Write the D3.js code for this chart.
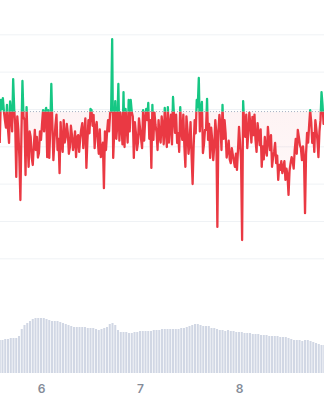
<!DOCTYPE html>
<html>
<head>
<meta charset="utf-8">
<script src="https://cdn.jsdelivr.net/npm/d3@7"></script>
<style>
  html, body { margin: 0; padding: 0; background: #fff; }
  .axis text { font-family: Inter, "Noto Sans", sans-serif; font-size: 12px; font-weight: 600; fill: #858c99; }
</style>
</head>
<body>
<div id="chart"></div>
<script>
// price samples every 15 minutes, hours counted from day 5 00:00
const priceStart = 14;
const priceStep = 0.25;
const prices = [
  100.9, 112.4, 110.0, 112.9, 109.5, 107.0, 105.0, 111.1, 104.5, 100.9, 112.0, 108.4, 104.0, 118.0, 110.0, 105.7,
  91.8, 108.0, 104.4, 97.0, 85.6, 103.0, 117.5, 108.0, 107.0, 92.3, 110.5, 101.0, 94.5, 104.0, 102.5, 97.0,
  95.0, 100.0, 104.4, 99.0, 102.5, 97.0, 98.2, 104.0, 101.7, 106.0, 109.7, 104.0, 109.2, 110.3, 97.1, 109.7,
  96.9, 105.0, 116.7, 106.0, 96.3, 101.5, 105.7, 108.5, 99.0, 102.0, 92.8, 106.5, 100.9, 98.5, 107.0, 101.0,
  102.5, 106.0, 103.6, 98.0, 99.8, 105.5, 103.0, 99.0, 100.9, 104.0, 97.1, 102.5, 103.0, 98.5, 102.2, 104.5,
  106.2, 99.5, 103.6, 107.5, 94.2, 101.5, 107.0, 103.5, 110.0, 109.7, 105.5, 108.4, 99.5, 105.2, 106.5, 101.7,
  98.0, 104.5, 97.1, 99.0, 101.0, 88.8, 104.0, 99.0, 103.6, 107.0, 104.0, 108.9, 109.5, 128.7, 96.9, 104.0,
  112.1, 102.0, 105.7, 116.7, 101.5, 109.0, 105.7, 100.5, 114.5, 99.8, 110.0, 105.2, 101.0, 112.4, 104.0, 112.4,
  109.2, 108.0, 96.9, 106.5, 103.6, 99.0, 100.9, 107.5, 104.9, 102.0, 99.5, 109.7, 101.5, 107.0, 110.0, 107.0,
  111.6, 102.0, 107.0, 94.2, 111.1, 101.7, 109.0, 105.7, 103.8, 99.0, 107.0, 102.5, 101.0, 108.0, 105.2, 100.5,
  110.3, 104.5, 99.8, 110.5, 101.0, 105.7, 108.5, 100.5, 113.2, 108.0, 103.6, 108.5, 100.9, 103.5, 98.5, 110.5,
  104.0, 101.7, 108.5, 100.0, 94.5, 108.0, 104.4, 98.0, 100.9, 106.5, 97.5, 89.9, 100.0, 107.0, 103.5, 112.4,
  110.5, 118.3, 104.0, 109.7, 111.9, 98.2, 100.5, 104.4, 104.4, 112.7, 101.7, 106.0, 96.9, 105.0, 101.7, 96.3,
  100.0, 107.0, 103.5, 78.4, 104.0, 108.4, 105.5, 99.0, 111.1, 102.0, 107.0, 103.5, 97.0, 99.0, 101.5, 96.5,
  95.5, 99.5, 97.7, 96.0, 94.5, 98.0, 93.7, 99.0, 105.2, 101.0, 96.0, 74.9, 112.1, 106.0, 102.5, 108.5,
  99.5, 103.6, 109.0, 105.7, 101.0, 107.9, 103.0, 108.5, 101.7, 98.5, 106.2, 103.5, 100.3, 104.5, 94.5, 100.0,
  96.5, 102.5, 99.0, 97.5, 105.2, 101.5, 99.0, 103.0, 94.5, 97.0, 98.5, 100.9, 95.5, 97.5, 91.0, 95.0,
  93.7, 96.0, 92.8, 94.5, 96.0, 91.0, 94.0, 92.3, 87.0, 93.5, 95.5, 97.1, 96.0, 94.0, 99.0, 102.0,
  98.0, 104.4, 102.5, 100.3, 99.5, 96.3, 100.0, 97.0, 82.1, 98.0, 103.6, 101.0, 105.7, 109.7, 106.5, 100.9,
  103.5, 98.5, 107.0, 104.5, 101.7, 97.1, 104.0, 107.0, 114.5, 111.0, 106.0, 108.9, 109.0
];

// opening price (dotted baseline)
const openPrice = 109.3;

// volume bars, one every 40 minutes starting at hour 14
const volumeStart = 14;
const volumeStep = 40 / 60;
const volumes = [
  33, 33, 34, 34, 35, 35, 35, 37, 44, 48,
  50, 52, 54, 55, 55, 55, 55, 54, 53, 52,
  52, 52, 51, 50, 49, 48, 47, 46, 46, 46,
  46, 46, 45, 45, 45, 44, 43, 44, 45, 46,
  49, 50, 48, 43, 41, 41, 41, 40, 40, 41,
  41, 42, 42, 42, 42, 42, 43, 43, 43, 44,
  44, 44, 44, 44, 44, 44, 45, 45, 46, 47,
  48, 49, 49, 48, 47, 47, 47, 45, 45, 44,
  43, 43, 42, 43, 42, 42, 41, 41, 41, 40,
  40, 40, 39, 39, 39, 38, 38, 38, 37, 37,
  37, 37, 36, 36, 36, 35, 34, 33, 33, 33,
  32, 33, 33, 32, 31, 30, 29, 28, 28
];

const priceTicks = [70, 80, 90, 100, 110, 120, 130];
const dayTicks = [24, 48, 72];
const dayLabels = ["6", "7", "8"];

class BaselineChart {

  constructor() {
    this.width = 324;
    this.height = 400;
    this.initVis();
  }

  initVis() {
    let vis = this;

    vis.svg = d3.select("#chart")
      .append("svg")
        .attr("width", vis.width)
        .attr("height", vis.height);

    vis.data = prices.map((p, i) => ({ h: priceStart + i * priceStep, p: p }));
    vis.volData = volumes.map((v, i) => ({ h: volumeStart + i * volumeStep, v: v }));

    vis.xScale = d3.scaleLinear()
      .domain([14.06, 92.6])
      .range([0, vis.width]);

    vis.yScale = d3.scaleLinear()
      .domain([70, 130])
      .range([258.3, 34.3]);

    vis.volScale = d3.scaleLinear()
      .domain([0, 60])
      .range([373, 313]);

    vis.renderVis();
  }

  renderVis() {
    let vis = this;
    let yBase = vis.yScale(openPrice);

    // gridlines
    vis.svg.append("g")
      .attr("class", "grid")
      .call(d3.axisRight(vis.yScale).tickValues(priceTicks).tickSize(vis.width).tickFormat(""))
      .call(g => g.select(".domain").remove())
      .call(g => g.selectAll("line").attr("stroke", "#eff2f5"));

    // volume bars
    let bw = (vis.xScale(volumeStep) - vis.xScale(0)) * 0.74;
    vis.svg.append("g")
      .selectAll("rect")
      .data(vis.volData)
      .join("rect")
        .attr("x", d => vis.xScale(d.h) - bw / 2)
        .attr("y", d => vis.volScale(d.v))
        .attr("width", bw)
        .attr("height", d => vis.volScale(0) - vis.volScale(d.v))
        .attr("fill", "#d1d7e4");

    let defs = vis.svg.append("defs");
    defs.append("clipPath").attr("id", "clip-up")
      .append("rect").attr("x", 0).attr("y", 0).attr("width", vis.width).attr("height", yBase);
    defs.append("clipPath").attr("id", "clip-down")
      .append("rect").attr("x", 0).attr("y", yBase).attr("width", vis.width).attr("height", vis.height - yBase);

    let redGrad = defs.append("linearGradient").attr("id", "red-fill")
      .attr("gradientUnits", "userSpaceOnUse")
      .attr("x1", 0).attr("x2", 0).attr("y1", yBase).attr("y2", vis.yScale(72));
    redGrad.append("stop").attr("offset", 0).attr("stop-color", "#ea3943").attr("stop-opacity", 0.06);
    redGrad.append("stop").attr("offset", 1).attr("stop-color", "#ea3943").attr("stop-opacity", 0.015);

    let greenGrad = defs.append("linearGradient").attr("id", "green-fill")
      .attr("gradientUnits", "userSpaceOnUse")
      .attr("x1", 0).attr("x2", 0).attr("y1", yBase).attr("y2", vis.yScale(128));
    greenGrad.append("stop").attr("offset", 0).attr("stop-color", "#16c784").attr("stop-opacity", 0.06);
    greenGrad.append("stop").attr("offset", 1).attr("stop-color", "#16c784").attr("stop-opacity", 0.015);

    let area = d3.area()
      .x(d => vis.xScale(d.h))
      .y0(yBase)
      .y1(d => vis.yScale(d.p));

    let line = d3.line()
      .x(d => vis.xScale(d.h))
      .y(d => vis.yScale(d.p));

    vis.svg.append("path").datum(vis.data)
      .attr("clip-path", "url(#clip-down)")
      .attr("d", area)
      .attr("fill", "url(#red-fill)");
    vis.svg.append("path").datum(vis.data)
      .attr("clip-path", "url(#clip-up)")
      .attr("d", area)
      .attr("fill", "url(#green-fill)");

    // dotted baseline at the open price
    vis.svg.append("line")
      .attr("x1", 0).attr("x2", vis.width)
      .attr("y1", yBase).attr("y2", yBase)
      .attr("stroke", "#a6b0c3")
      .attr("stroke-width", 1)
      .attr("stroke-dasharray", "1,2");

    vis.svg.append("path").datum(vis.data)
      .attr("clip-path", "url(#clip-down)")
      .attr("d", line)
      .attr("fill", "none")
      .attr("stroke", "#ea3943")
      .attr("stroke-width", 2.3)
      .attr("stroke-linejoin", "round");
    vis.svg.append("path").datum(vis.data)
      .attr("clip-path", "url(#clip-up)")
      .attr("d", line)
      .attr("fill", "none")
      .attr("stroke", "#16c784")
      .attr("stroke-width", 2.3)
      .attr("stroke-linejoin", "round");

    // day labels
    vis.svg.append("g")
      .attr("class", "axis x-axis")
      .attr("transform", "translate(0," + vis.volScale(0) + ")")
      .call(d3.axisBottom(vis.xScale).tickValues(dayTicks).tickFormat((d, i) => dayLabels[i]).tickSize(0).tickPadding(11))
      .call(g => g.select(".domain").remove());
  }
}

new BaselineChart();
</script>
</body>
</html>
